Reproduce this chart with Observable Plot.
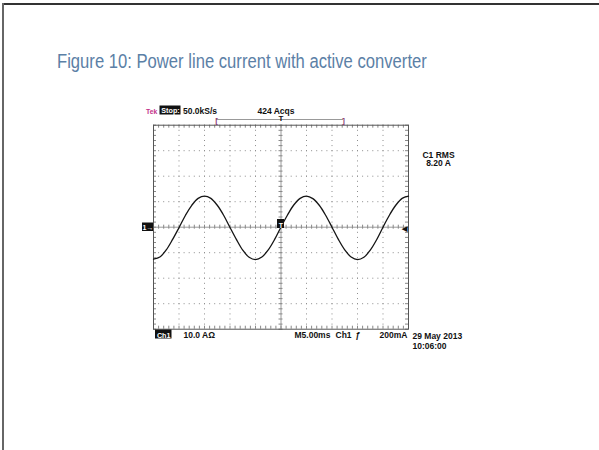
<!DOCTYPE html>
<html><head><meta charset="utf-8">
<script src="https://cdn.jsdelivr.net/npm/d3@7"></script>
<script src="https://cdn.jsdelivr.net/npm/@observablehq/plot@0.6"></script>
<style>
html,body{margin:0;padding:0;background:#fff;}
#page{position:relative;width:599px;height:450px;overflow:hidden;background:#fff;}
#frameTop{position:absolute;left:3px;top:3px;right:0;height:0;border-top:2px solid #333;}
#frameLeft{position:absolute;left:2px;top:3px;bottom:0;width:0;border-left:2px solid #666;}
#title{position:absolute;left:57px;top:52px;font-family:"Liberation Sans",Arial,sans-serif;font-size:19.5px;color:#5b80a6;white-space:nowrap;line-height:1;transform:scaleX(0.853);transform-origin:0 0;}
#chart{position:absolute;left:0;top:90px;}
</style></head><body>
<div id="page"><div id="frameTop"></div><div id="frameLeft"></div>
<div id="title">Figure 10: Power line current with active converter</div>
<div id="chart"></div></div>
<script>
// ---- data ----
const timeMs = [-25,-23.75,-22.5,-21.25,-20,-18.75,-17.5,-16.25,-15,-13.75,-12.5,-11.25,-10,-8.75,-7.5,-6.25,-5,-3.75,-2.5,-1.25,0,1.25,2.5,3.75,5,6.25,7.5,8.75,10,11.25,12.5,13.75,15,16.25,17.5,18.75,20,21.25,22.5,23.75,25];
const currentA = [-12.5,-11.7,-8.9,-4.8,-0.2,4.6,8.6,11.3,12.2,11.3,8.6,4.7,-0.1,-4.8,-9.0,-11.8,-12.7,-11.7,-8.9,-4.8,0.1,4.7,8.7,11.3,12.2,11.2,8.6,4.7,0,-4.8,-8.9,-11.7,-12.7,-11.8,-9.0,-4.9,0,4.7,8.6,11.3,12.2];
const xDivisions = [-25,-20,-15,-10,-5,0,5,10,15,20,25];   // 5 ms/div
const yDivisions = [-40,-30,-20,-10,0,10,20,30,40];        // 10 A/div
const headerLabels = ["Tek", "Stop:", "50.0kS/s", "424 Acqs"];
const readoutLabels = ["C1 RMS", "8.20 A"];
const footerLabels = ["Ch1", "10.0 A\u03A9", "M5.00ms", "Ch1", "\u0192", "200mA"];
const stampLabels = ["29 May 2013", "10:06:00"];
const markerLabels = ["1\u2192", "T", "\u25C0", "[", "]", "T"];

// ---- layout ----
const W = 599, H = 360, mL = 153, mR = 191, mT = 34.7, mB = 121.3;
const xDomain = [xDivisions[0], xDivisions[xDivisions.length-1]];
const yDomain = [yDivisions[0], yDivisions[yDivisions.length-1]];
const pw = W - mL - mR, ph = H - mT - mB;
const ax = (xDomain[1]-xDomain[0]) / pw, ay = (yDomain[1]-yDomain[0]) / ph;
const fx = px => xDomain[0] + (px - mL) * ax;
const fy = py => yDomain[1] - (py - mT) * ay;

const wave = timeMs.map((t, i) => ({t, i: currentA[i]}));
const minorX = d3.range(xDomain[0], xDomain[1] + 0.001, 1);
const minorY = d3.range(yDomain[0], yDomain[1] + 0.001, 2);
const innerX = xDivisions.filter(d => d !== 0 && d !== xDomain[0] && d !== xDomain[1]);
const innerY = yDivisions.filter(d => d !== 0 && d !== yDomain[0] && d !== yDomain[1]);

const boxes = [
  {x1: fx(159.5), x2: fx(180.5), y1: fy(15.5), y2: fy(24.5)}, // Stop:
  {x1: fx(155), x2: fx(171.5), y1: fy(239.5), y2: fy(248.5)}, // Ch1
  {x1: fx(142), x2: fx(153), y1: fy(132.5), y2: fy(141)},     // 1-> marker
  {x1: fx(277), x2: fx(284), y1: fy(129), y2: fy(138)}        // trigger marker
];

const F = "Liberation Sans, Arial, sans-serif";
const lab = (text, px, py, o = {}) => ({text, x: fx(px), y: fy(py), anchor: o.anchor || "start", fill: o.fill || "#111", size: o.size || 8.5, weight: o.weight || "bold"});
const labels = [
  lab(headerLabels[0], 145.5, 23, {fill: "#c2308a", size: 6.8}),
  lab(headerLabels[1], 170, 22.8, {fill: "#fff", anchor: "middle", size: 7.2}),
  lab(headerLabels[2], 182.5, 23),
  lab(headerLabels[3], 257, 23),
  lab(readoutLabels[0], 438, 67, {anchor: "middle"}),
  lab(readoutLabels[1], 438, 75.5, {anchor: "middle"}),
  lab(footerLabels[0], 163.2, 247.3, {fill: "#fff", anchor: "middle", size: 7.2}),
  lab(footerLabels[1], 183, 247),
  lab(footerLabels[2], 294, 247),
  lab(footerLabels[3], 335, 247),
  lab(footerLabels[4], 355, 247),
  lab(footerLabels[5], 407, 247, {anchor: "end"}),
  lab(stampLabels[0], 412, 248),
  lab(stampLabels[1], 412, 258.5),
  lab(markerLabels[0], 147.5, 139.8, {fill: "#fff", anchor: "middle", size: 7}),
  lab(markerLabels[1], 280.5, 137, {fill: "#fff", anchor: "middle", size: 7}),
  lab(markerLabels[2], 404, 140, {anchor: "middle", size: 7}),
  lab(markerLabels[3], 216, 32, {fill: "#8a3f74", anchor: "middle", size: 8}),
  lab(markerLabels[4], 343, 32, {fill: "#8a3f74", anchor: "middle", size: 8}),
  lab(markerLabels[5], 280.5, 30.5, {anchor: "middle", size: 8})
];

const textMarks = labels.map(l => Plot.text([l], {
  x: "x", y: "y", text: "text", textAnchor: l.anchor, lineAnchor: "bottom",
  fill: l.fill, fontSize: l.size, fontWeight: l.weight, fontFamily: F, clip: false
}));

const grid = "#8c8c8c";
const chart = Plot.plot({
  width: W, height: H,
  marginLeft: mL, marginRight: mR, marginTop: mT, marginBottom: mB,
  x: {domain: xDomain, axis: null},
  y: {domain: yDomain, axis: null},
  style: {background: "transparent", overflow: "visible"},
  marks: [
    Plot.ruleX(innerX, {stroke: grid, strokeWidth: 1, strokeDasharray: "1,4.1"}),
    Plot.ruleY(innerY, {stroke: grid, strokeWidth: 1, strokeDasharray: "1,4.1"}),
    Plot.ruleX([0], {stroke: "#9a9a9a", strokeWidth: 1}),
    Plot.ruleY([0], {stroke: "#9a9a9a", strokeWidth: 1}),
    Plot.ruleX(minorX, {x: d => d, y1: () => -2 * ay, y2: () => 2 * ay, stroke: "#888"}),
    Plot.ruleY(minorY, {y: d => d, x1: () => -2 * ax, x2: () => 2 * ax, stroke: "#888"}),
    Plot.ruleX(minorX, {x: d => d, y1: () => yDomain[1], y2: () => yDomain[1] - 3 * ay, stroke: "#888"}),
    Plot.ruleX(minorX, {x: d => d, y1: () => yDomain[0], y2: () => yDomain[0] + 3 * ay, stroke: "#888"}),
    Plot.ruleY(minorY, {y: d => d, x1: () => xDomain[0], x2: () => xDomain[0] + 3 * ax, stroke: "#888"}),
    Plot.ruleY(minorY, {y: d => d, x1: () => xDomain[1], x2: () => xDomain[1] - 3 * ax, stroke: "#888"}),
    Plot.frame({stroke: "#555", strokeWidth: 1}),
    Plot.ruleY([fy(29)], {x1: () => fx(216), x2: () => fx(343), stroke: "#999", strokeWidth: 1, clip: false}),
    Plot.rect(boxes, {x1: "x1", x2: "x2", y1: "y1", y2: "y2", fill: "#111", clip: false}),
    Plot.line(wave, {x: "t", y: "i", curve: "catmull-rom", stroke: "#151515", strokeWidth: 1.3}),
    ...textMarks
  ]
});
document.getElementById("chart").appendChild(chart);
</script>
</body></html>
